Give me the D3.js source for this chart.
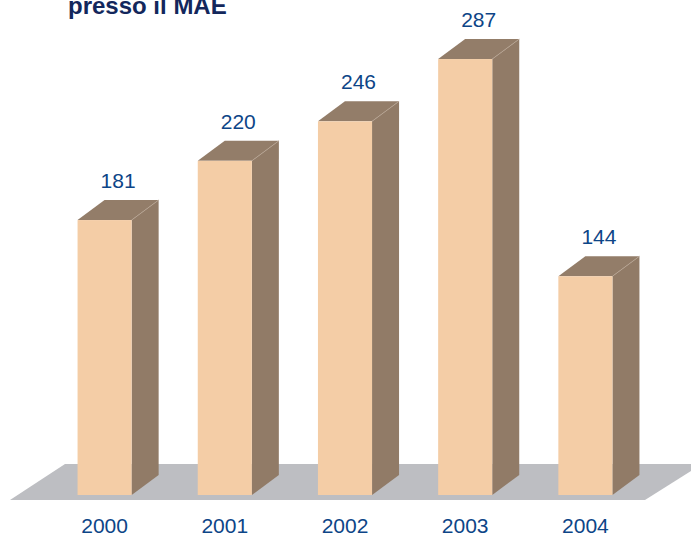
<!DOCTYPE html>
<html>
<head>
<meta charset="utf-8">
<script src="https://cdn.jsdelivr.net/npm/d3@7"></script>
<style>
html,body{margin:0;padding:0;background:#fff;}
svg{display:block;}
</style>
</head>
<body>
<script>
const years = ["2000", "2001", "2002", "2003", "2004"];
const values = [181, 220, 246, 287, 144];
const titleText = "presso il MAE";

const W = 691, H = 536;
const svg = d3.select("body").append("svg").attr("width", W).attr("height", H);

const x = d3.scaleBand().domain(years).range([44.5, 645.5]).paddingInner(0.55).paddingOuter(0.275);
const y = d3.scaleLinear().domain([0, 300]).range([495, 495 - 300 * 1.519]);

const dx = 27, dy = -20;
const base = y(0);

// floor
svg.append("polygon")
  .attr("points", [[10, 500], [645, 500], [702, 464], [65, 464]].map(p => p.join(",")).join(" "))
  .attr("fill", "#BDBEC2");

const g = svg.append("g");
const bars = g.selectAll("g.bar").data(years.map((yr, i) => ({yr, v: values[i]}))).join("g");

// side face
bars.append("polygon")
  .attr("points", d => {
    const x1 = x(d.yr) + x.bandwidth();
    const t = y(d.v);
    return [[x1, t], [x1 + dx, t + dy], [x1 + dx, base + dy], [x1, base]].map(p => p.join(",")).join(" ");
  })
  .attr("fill", "#917B67");

// top face
bars.append("polygon")
  .attr("points", d => {
    const x0 = x(d.yr), x1 = x0 + x.bandwidth();
    const t = y(d.v);
    return [[x0, t], [x1, t], [x1 + dx, t + dy], [x0 + dx, t + dy]].map(p => p.join(",")).join(" ");
  })
  .attr("fill", "#937D69");

// faint edge highlight
bars.append("line")
  .attr("x1", d => x(d.yr) + x.bandwidth())
  .attr("y1", d => y(d.v))
  .attr("x2", d => x(d.yr) + x.bandwidth() + dx)
  .attr("y2", d => y(d.v) + dy)
  .attr("stroke", "#B8A593").attr("stroke-width", 0.8);

// front face
bars.append("rect")
  .attr("x", d => x(d.yr))
  .attr("y", d => y(d.v))
  .attr("width", x.bandwidth())
  .attr("height", d => base - y(d.v))
  .attr("fill", "#F4CDA6");

// value labels
bars.append("text")
  .attr("x", d => x(d.yr) + x.bandwidth() / 2 + dx / 2)
  .attr("y", d => y(d.v) - 32)
  .attr("text-anchor", "middle")
  .attr("font-family", "Liberation Sans, Arial, sans-serif")
  .attr("font-size", 21)
  .attr("fill", "#0D4587")
  .text(d => d.v);

// year labels
svg.append("g").selectAll("text").data(years).join("text")
  .attr("x", d => x(d) + x.bandwidth() / 2)
  .attr("y", 533)
  .attr("text-anchor", "middle")
  .attr("font-family", "Liberation Sans, Arial, sans-serif")
  .attr("font-size", 21)
  .attr("fill", "#0D4587")
  .text(d => d);

// title
svg.append("text")
  .attr("x", 68).attr("y", 14)
  .attr("font-family", "Liberation Sans, Arial, sans-serif")
  .attr("font-weight", "bold")
  .attr("font-size", 24)
  .attr("fill", "#13275C")
  .text(titleText);
</script>
</body>
</html>
